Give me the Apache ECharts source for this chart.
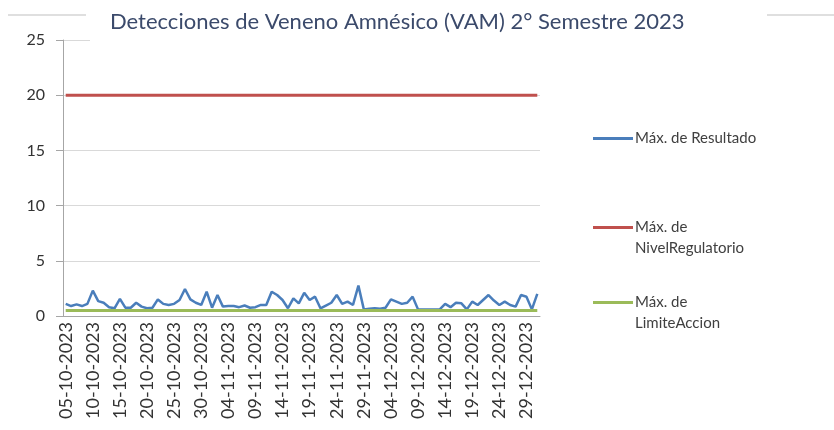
<!DOCTYPE html>
<html>
<head>
<meta charset="utf-8">
<script src="https://cdn.jsdelivr.net/npm/echarts@6/dist/echarts.min.js"></script>
<style>
  html, body { margin: 0; padding: 0; background: #fff; }
  #chart { width: 834px; height: 430px; }
</style>
</head>
<body>
<div id="chart"></div>
<script>
// fechas de muestreo (05-10-2023 .. 31-12-2023)
const dates = [
  "05-10-2023","06-10-2023","07-10-2023","08-10-2023","09-10-2023","10-10-2023","11-10-2023","12-10-2023","13-10-2023","14-10-2023",
  "15-10-2023","16-10-2023","17-10-2023","18-10-2023","19-10-2023","20-10-2023","21-10-2023","22-10-2023","23-10-2023","24-10-2023",
  "25-10-2023","26-10-2023","27-10-2023","28-10-2023","29-10-2023","30-10-2023","31-10-2023","01-11-2023","02-11-2023","03-11-2023",
  "04-11-2023","05-11-2023","06-11-2023","07-11-2023","08-11-2023","09-11-2023","10-11-2023","11-11-2023","12-11-2023","13-11-2023",
  "14-11-2023","15-11-2023","16-11-2023","17-11-2023","18-11-2023","19-11-2023","20-11-2023","21-11-2023","22-11-2023","23-11-2023",
  "24-11-2023","25-11-2023","26-11-2023","27-11-2023","28-11-2023","29-11-2023","30-11-2023","01-12-2023","02-12-2023","03-12-2023",
  "04-12-2023","05-12-2023","06-12-2023","07-12-2023","08-12-2023","09-12-2023","10-12-2023","11-12-2023","12-12-2023","13-12-2023",
  "14-12-2023","15-12-2023","16-12-2023","17-12-2023","18-12-2023","19-12-2023","20-12-2023","21-12-2023","22-12-2023","23-12-2023",
  "24-12-2023","25-12-2023","26-12-2023","27-12-2023","28-12-2023","29-12-2023","30-12-2023","31-12-2023"
];

// Máx. de Resultado
const resultado = [
  1.1, 0.9, 1.05, 0.9, 1.1, 2.3, 1.35, 1.2, 0.8, 0.7,
  1.55, 0.75, 0.75, 1.2, 0.85, 0.7, 0.75, 1.5, 1.1, 1.0,
  1.1, 1.45, 2.45, 1.5, 1.2, 1.0, 2.2, 0.75, 1.9, 0.85,
  0.9, 0.9, 0.8, 0.95, 0.75, 0.8, 1.0, 1.0, 2.2, 1.9,
  1.45, 0.7, 1.6, 1.15, 2.1, 1.45, 1.75, 0.7, 0.95, 1.2,
  1.9, 1.1, 1.3, 1.0, 2.75, 0.6, 0.65, 0.7, 0.65, 0.75,
  1.5, 1.3, 1.1, 1.2, 1.75, 0.6, 0.6, 0.6, 0.6, 0.6,
  1.1, 0.8, 1.2, 1.15, 0.6, 1.3, 1.0, 1.45, 1.9, 1.4,
  1.0, 1.3, 1.0, 0.85, 1.9, 1.75, 0.6, 2.0
];

const nivelRegulatorio = 20;
const limiteAccion = 0.5;

const yTicks = [0, 5, 10, 15, 20, 25];

const seriesNames = ["Máx. de Resultado", "Máx. de\nNivelRegulatorio", "Máx. de\nLimiteAccion"];
const seriesColors = ["#4a7ebb", "#c0504d", "#9bbb59"];

const chart = echarts.init(document.getElementById("chart"));

const font = "Lato, 'Open Sans', sans-serif";

const legendBase = {
  orient: "vertical",
  left: 588,
  itemWidth: 42,
  itemHeight: 3,
  textStyle: {
    fontFamily: font,
    fontSize: 15,
    color: "#404040",
    lineHeight: 21,
    padding: [0, 0, 0, -4],
  },
};
// la línea del símbolo queda a la altura de la primera línea del texto
const iconOneLine = "path://M0,0 L40,0 L40,3 L0,3 Z";
const iconTwoLines = "path://M0,0 L40,0 L40,3 L0,3 Z M0,24 L0,24";

const options = {
  animation: false,
  backgroundColor: "#fff",
  title: {
    text: "Detecciones de Veneno Amnésico (VAM) 2° Semestre 2023",
    left: 105,
    top: 6,
    z: 60,
    textStyle: {
      fontFamily: font,
      fontWeight: "normal",
      fontSize: 22,
      color: "#3b4a6b",
    },
  },
  legend: [
    Object.assign({}, legendBase, { top: 123, icon: iconOneLine, data: [seriesNames[0]] }),
    Object.assign({}, legendBase, { top: 212, icon: iconTwoLines, itemHeight: 24, data: [seriesNames[1]] }),
    Object.assign({}, legendBase, { top: 287, icon: iconTwoLines, itemHeight: 24, data: [seriesNames[2]] }),
  ],
  grid: {
    left: 63,
    right: 294,
    top: 40,
    bottom: 114,
  },
  xAxis: {
    type: "category",
    data: dates,
    boundaryGap: true,
    axisLine: { lineStyle: { color: "#a6a6a6", width: 1 } },
    axisTick: {
      interval: 0,
      length: 5,
      lineStyle: { color: "#bfbfbf" },
    },
    axisLabel: {
      interval: 4,
      rotate: 90,
      margin: 6,
      fontFamily: font,
      fontSize: 18,
      color: "#333",
    },
    splitLine: { show: false },
  },
  yAxis: {
    type: "value",
    min: yTicks[0],
    max: yTicks[yTicks.length - 1],
    interval: 5,
    axisLine: { show: true, lineStyle: { color: "#a6a6a6" } },
    axisTick: { show: true, length: 7, lineStyle: { color: "#a6a6a6" } },
    axisLabel: {
      margin: 18,
      fontFamily: font,
      fontSize: 16,
      color: "#333",
    },
    splitLine: { lineStyle: { color: "#d9d9d9" } },
  },
  series: [
    {
      name: seriesNames[0],
      type: "line",
      data: resultado,
      showSymbol: false,
      z: 3,
      lineStyle: { color: seriesColors[0], width: 2.5 },
      itemStyle: { color: seriesColors[0] },
    },
    {
      name: seriesNames[1],
      type: "line",
      data: dates.map(() => nivelRegulatorio),
      showSymbol: false,
      lineStyle: { color: seriesColors[1], width: 3 },
      itemStyle: { color: seriesColors[1] },
    },
    {
      name: seriesNames[2],
      type: "line",
      data: dates.map(() => limiteAccion),
      showSymbol: false,
      z: 4,
      lineStyle: { color: seriesColors[2], width: 3 },
      itemStyle: { color: seriesColors[2] },
    },
  ],
  graphic: [
    // borde del gráfico, tapado por la caja del título
    { type: "line", z: 40, shape: { x1: 8, y1: 15, x2: 86, y2: 15 }, style: { stroke: "#bfbfbf", lineWidth: 1 } },
    { type: "line", z: 40, shape: { x1: 767, y1: 15, x2: 834, y2: 15 }, style: { stroke: "#bfbfbf", lineWidth: 1 } },
    { type: "rect", z: 50, shape: { x: 90, y: 0, width: 675, height: 45 }, style: { fill: "#fff" } },
  ],
};

chart.setOption(options);
window.addEventListener("resize", () => {
  chart.resize();
});
</script>
</body>
</html>
